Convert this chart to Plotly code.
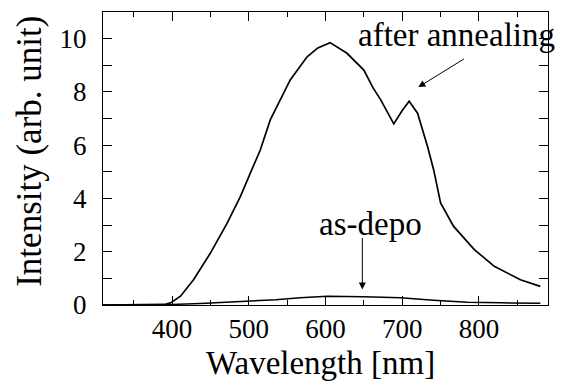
import plotly.graph_objects as go

# after annealing spectrum
wl_annealed = [310, 350, 380, 390, 398, 411, 428, 450, 472, 489, 502, 515, 528, 554, 576, 590, 606, 628, 650, 662, 672, 689, 700, 709, 720, 733, 741, 750, 767, 794, 820, 854, 880]
int_annealed = [0, 0, 0, 0.02, 0.08, 0.33, 0.95, 1.95, 3.08, 4.07, 4.95, 5.82, 6.95, 8.45, 9.32, 9.65, 9.85, 9.45, 8.82, 8.15, 7.7, 6.8, 7.3, 7.65, 7.2, 5.95, 5.07, 3.83, 2.95, 2.08, 1.45, 0.95, 0.70]

# as-deposited spectrum
wl_asdepo = [310, 400, 437, 470, 502, 535, 567, 602, 650, 698, 741, 785, 830, 880]
int_asdepo = [0, 0.02, 0.06, 0.1, 0.14, 0.2, 0.27, 0.33, 0.31, 0.27, 0.18, 0.1, 0.08, 0.07]

x_ticks = [400, 500, 600, 700, 800]
y_ticks = [0, 2, 4, 6, 8, 10]

FONT = "Liberation Serif"

fig = go.Figure()
fig.add_trace(go.Scatter(x=wl_annealed, y=int_annealed, mode="lines",
                         line=dict(color="black", width=1.7), showlegend=False))
fig.add_trace(go.Scatter(x=wl_asdepo, y=int_asdepo, mode="lines",
                         line=dict(color="black", width=1.5), showlegend=False))

fig.add_annotation(x=721, y=8.18, ax=47, ay=-29, xref="x", yref="y", text="",
                   showarrow=True, arrowhead=2, arrowsize=1.4, arrowwidth=1, arrowcolor="black")
fig.add_annotation(x=0.795, y=0.92, xref="paper", yref="paper", text="after annealing",
                   showarrow=False, font=dict(family=FONT, size=33, color="black"),
                   xanchor="center", yanchor="middle")
fig.add_annotation(x=648, y=0.58, ax=0, ay=-53, xref="x", yref="y", text="",
                   showarrow=True, arrowhead=2, arrowsize=1.4, arrowwidth=1, arrowcolor="black")
fig.add_annotation(x=0.602, y=0.275, xref="paper", yref="paper", text="as-depo",
                   showarrow=False, font=dict(family=FONT, size=33, color="black"),
                   xanchor="center", yanchor="middle")

# axis titles
fig.add_annotation(x=0.488, y=-0.262, xref="paper", yref="paper", text="Wavelength [nm]",
                   showarrow=False, font=dict(family=FONT, size=33, color="black"),
                   xanchor="center", yanchor="bottom", borderpad=0)
fig.add_annotation(x=-0.164, y=0.523, xref="paper", yref="paper", text="Intensity (arb. unit)",
                   showarrow=False, textangle=-90, font=dict(family=FONT, size=35, color="black"),
                   xanchor="center", yanchor="middle")

axis_common = dict(showline=True, linecolor="black", linewidth=1, mirror="allticks",
                   ticks="inside", tickcolor="black", ticklen=9, tickwidth=1,
                   showgrid=False, zeroline=False,
                   tickfont=dict(family=FONT, size=27, color="black"))

fig.update_xaxes(range=[310, 890], tickvals=x_ticks,
                 minor=dict(dtick=50, tick0=0, ticks="inside", ticklen=5, tickcolor="black"),
                 ticklabelstandoff=0,
                 **axis_common)
fig.update_yaxes(range=[0, 11], tickvals=y_ticks,
                 minor=dict(dtick=1, tick0=0, ticks="inside", ticklen=9, tickcolor="black"),
                 ticklabelstandoff=10,
                 **axis_common)

fig.update_layout(width=568, height=383, margin=dict(l=103, r=20, t=12, b=78),
                  paper_bgcolor="white", plot_bgcolor="white")

fig.write_html("out.html", config={"displayModeBar": False},
               post_script="document.body.style.margin='0';")
